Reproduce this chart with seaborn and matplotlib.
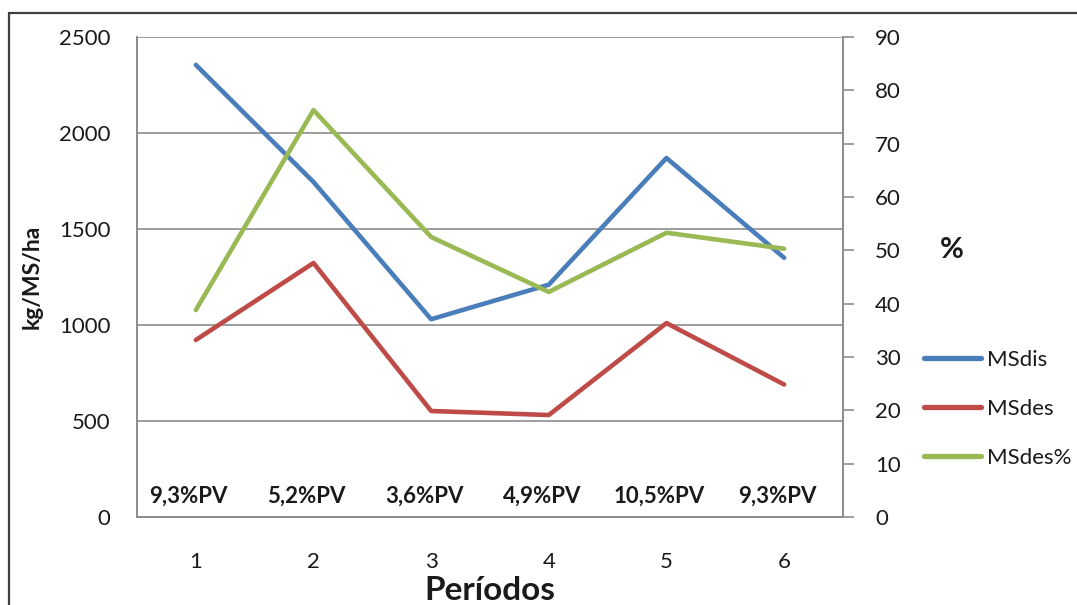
import matplotlib
matplotlib.use("Agg")
import matplotlib.pyplot as plt
from matplotlib.patches import Rectangle
from matplotlib.lines import Line2D
import seaborn as sns
import pandas as pd

# Periods and series values
periodos = [1, 2, 3, 4, 5, 6]
ms_dis = [2355, 1745, 1030, 1210, 1870, 1350]      # kg/MS/ha
ms_des = [922, 1323, 552, 531, 1010, 690]           # kg/MS/ha
ms_des_pct = [38.8, 76.3, 52.5, 42.2, 53.3, 50.3]   # %
pv_labels = ["9,3%PV", "5,2%PV", "3,6%PV", "4,9%PV", "10,5%PV", "9,3%PV"]
series_names = ["MSdis", "MSdes", "MSdes%"]

df_kg = pd.DataFrame({"Período": periodos * 2,
                      "valor": ms_dis + ms_des,
                      "serie": [series_names[0]] * 6 + [series_names[1]] * 6})
df_pct = pd.DataFrame({"Período": periodos, "valor": ms_des_pct,
                       "serie": [series_names[2]] * 6})

colors = {"MSdis": "#4A7EBB", "MSdes": "#BE4B48", "MSdes%": "#98B954"}

sns.set_theme(style="white")
plt.rcParams["font.family"] = ["Lato", "DejaVu Sans"]
FS = 16
TXT = "#1a1a1a"
GRID = "#8c8c8c"

fig = plt.figure(figsize=(10.77, 6.05), dpi=100)
ax = fig.add_axes([0.1272, 0.1455, 0.7827 - 0.1272, 0.9388 - 0.1455])
ax2 = ax.twinx()

sns.lineplot(data=df_kg, x="Período", y="valor", hue="serie", palette=colors,
             linewidth=3.3, ax=ax, legend=False, solid_capstyle="round")
sns.lineplot(data=df_pct, x="Período", y="valor", hue="serie", palette=colors,
             linewidth=3.3, ax=ax2, legend=False, solid_capstyle="round")

# Left axis
ax.set_xlim(0.5, 6.5)
ax.set_ylim(0, 2500)
ax.set_yticks(range(0, 2501, 500))
ax.set_xticks(periodos)
ax.yaxis.grid(True, color=GRID, linewidth=1.2)
ax.xaxis.grid(False)
ax.tick_params(axis="y", length=0, pad=19, labelsize=FS, labelcolor=TXT)
ax.tick_params(axis="x", length=0, pad=25, labelsize=FS, labelcolor=TXT)
ax.set_xlabel("Períodos", fontsize=24, fontweight="bold", color=TXT, labelpad=3)
ax.set_ylabel("kg/MS/ha", fontsize=16.5, fontweight="bold", color=TXT)
ax.yaxis.set_label_coords(-0.133, 0.5)

# Right axis
ax2.set_ylim(0, 90)
ax2.set_yticks(range(0, 91, 10))
ax2.grid(False)
ax2.tick_params(axis="y", direction="out", length=8, width=1.2, color=GRID,
                pad=15, labelsize=FS, labelcolor=TXT, right=True)
ax2.set_ylabel("%", fontsize=21, fontweight="bold", color=TXT, rotation=0,
               va="center", ha="center")
ax2.yaxis.set_label_coords(1.154, 0.556)

for a in (ax, ax2):
    for sp in a.spines.values():
        sp.set_color(GRID)
        sp.set_linewidth(1.2)
    a.spines["top"].set_visible(False)

# Weight labels along the bottom of the plot
for x, lab in zip(periodos, pv_labels):
    ax.text(x - 0.06, 108, lab, ha="center", va="center", fontsize=16,
            fontweight="bold", color=TXT)

# Legend
handles = [Line2D([0], [0], color=colors[n], linewidth=3.8, solid_capstyle="round")
           for n in series_names]
fig.legend(handles, series_names, loc="upper left",
           bbox_to_anchor=(904 / 1077, 1 - 330 / 605), frameon=False,
           fontsize=FS, handlelength=2.55, handletextpad=0.3, labelspacing=1.3,
           labelcolor=TXT)

# Outer frame
fig.patches.append(Rectangle((9 / 1077, -0.1), 1.2, 1 - 13 / 605 + 0.1,
                             transform=fig.transFigure, fill=False,
                             edgecolor="#404040", linewidth=1.6))

fig.savefig("out.png", dpi=100)
